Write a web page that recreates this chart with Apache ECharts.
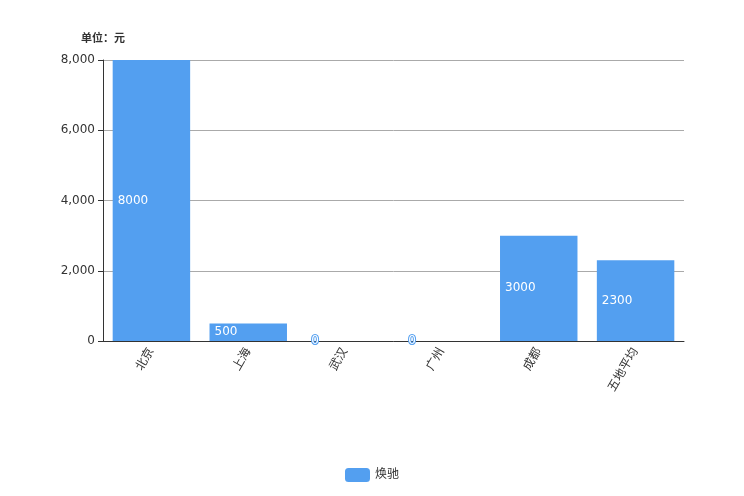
<!DOCTYPE html>
<html><head><meta charset="utf-8">
<script src="https://cdn.jsdelivr.net/npm/echarts@6/dist/echarts.min.js"></script>
<style>html,body{margin:0;padding:0;background:#fff}#c{width:744px;height:496px}</style>
</head><body><div id="c"></div>
<script>
const categories = ['北京','上海','武汉','广州','成都','五地平均'];
const values = [8000, 500, 0, 0, 3000, 2300];
const seriesName = '焕驰';
const yTicks = {min: 0, max: 8000, interval: 2000};
const FONT = 'DejaVu Sans, Noto Sans CJK SC, sans-serif';
const barColor = '#539ff0';

const chart = echarts.init(document.getElementById('c'));
chart.setOption({
  animation: false,
  textStyle: {fontFamily: FONT},
  legend: {bottom: 9, left: 'center', itemWidth: 25, itemHeight: 14, icon: 'roundRect',
    textStyle: {color: '#333', fontSize: 12, fontFamily: FONT}, data: [seriesName]},
  grid: {left: 103, right: 60, top: 60, bottom: 155},
  xAxis: {type: 'category', data: categories,
    axisLine: {lineStyle: {color: '#333'}}, axisTick: {show: false},
    axisLabel: {rotate: 60, color: '#333', fontSize: 12, interval: 0, fontFamily: FONT}},
  yAxis: {type: 'value', min: yTicks.min, max: yTicks.max, interval: yTicks.interval,
    name: '单位：元', nameGap: 15,
    nameTextStyle: {color: '#333', fontWeight: 'bold', fontSize: 11, fontFamily: FONT},
    axisLine: {show: true, lineStyle: {color: '#333'}}, axisTick: {show: true, lineStyle: {color: '#333'}},
    axisLabel: {color: '#333', fontSize: 12, fontFamily: FONT},
    splitLine: {lineStyle: {color: '#aaa'}}},
  series: [{name: seriesName, type: 'bar', data: values, barCategoryGap: '20%',
    itemStyle: {color: barColor},
    label: {show: true, position: 'insideLeft', color: '#fff', fontSize: 12, fontFamily: FONT,
      textBorderColor: barColor, textBorderWidth: 2}}]
});
</script></body></html>
